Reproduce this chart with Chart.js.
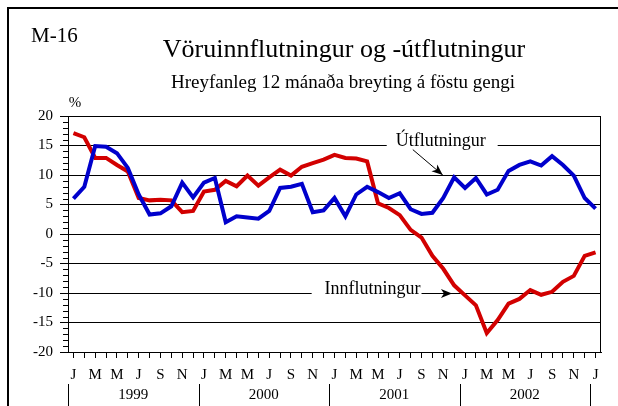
<!DOCTYPE html>
<html>
<head>
<meta charset="utf-8">
<script src="https://cdn.jsdelivr.net/npm/chart.js@4/dist/chart.umd.min.js"></script>
<style>
  body { margin: 0; background: #fff; }
</style>
</head>
<body>
<canvas id="chart" width="618" height="406"></canvas>
<script>
// Jan 1999 .. Jan 2003, one point per month
const months = ['J','F','M','A','M','J','J','A','S','O','N','D',
                'J','F','M','A','M','J','J','A','S','O','N','D',
                'J','F','M','A','M','J','J','A','S','O','N','D',
                'J','F','M','A','M','J','J','A','S','O','N','D',
                'J'];
const years = ['1999', '2000', '2001', '2002'];
const yTicks = [20, 15, 10, 5, 0, -5, -10, -15, -20];

// Útflutningur (blue)
const exportsData = [6.0, 8.0, 14.9, 14.8, 13.7, 11.2, 6.7, 3.3, 3.5, 4.7, 8.7, 6.2,
                     8.7, 9.5, 2.0, 3.0, 2.8, 2.6, 3.9, 7.8, 8.0, 8.5, 3.7, 4.0,
                     6.1, 3.0, 6.7, 8.0, 7.1, 6.1, 6.9, 4.2, 3.4, 3.6, 6.1, 9.6,
                     7.8, 9.5, 6.7, 7.5, 10.7, 11.7, 12.3, 11.6, 13.2, 11.7, 9.9, 6.1,
                     4.3];
// Innflutningur (red)
const importsData = [17.1, 16.4, 12.9, 12.9, 11.7, 10.6, 6.1, 5.7, 5.8, 5.7, 3.7, 3.9,
                     7.2, 7.5, 9.0, 8.1, 9.9, 8.2, 9.6, 10.9, 9.9, 11.4, 12.0, 12.6,
                     13.4, 12.9, 12.8, 12.3, 5.2, 4.4, 3.2, 0.7, -0.6, -3.7, -5.9, -8.7,
                     -10.4, -12.1, -16.8, -14.6, -11.8, -11.0, -9.5, -10.3, -9.8, -8.1, -7.1, -3.7,
                     -3.1];

const serif = '"Liberation Serif", "Times New Roman", serif';

function arrowHead(ctx, x1, y1, x2, y2) {
  const a = Math.atan2(y2 - y1, x2 - x1);
  const len = 11, w = 4.5;
  ctx.save();
  ctx.translate(x2, y2);
  ctx.rotate(a);
  ctx.beginPath();
  ctx.moveTo(0, 0);
  ctx.lineTo(-len, -w);
  ctx.lineTo(-len + 3, 0);
  ctx.lineTo(-len, w);
  ctx.closePath();
  ctx.fill();
  ctx.restore();
}

const decor = {
  id: 'decor',
  beforeDraw(chart) {
    const ctx = chart.ctx;
    ctx.save();
    ctx.fillStyle = '#fff';
    ctx.fillRect(0, 0, chart.width, chart.height);
    ctx.strokeStyle = '#000';
    ctx.lineWidth = 2;
    ctx.strokeRect(8, 8, 640, 440);
    ctx.fillStyle = '#000';
    ctx.textBaseline = 'alphabetic';
    ctx.font = '21px ' + serif;
    ctx.textAlign = 'left';
    ctx.fillText('M-16', 31, 42);
    ctx.textAlign = 'center';
    ctx.font = '26px ' + serif;
    ctx.fillText('Vöruinnflutningur og -útflutningur', 344, 57);
    ctx.font = '19px ' + serif;
    ctx.fillText('Hreyfanleg 12 mánaða breyting á föstu gengi', 343, 88);
    ctx.font = '15px ' + serif;
    ctx.fillText('%', 75, 107);
    ctx.restore();
  },
  beforeDatasetsDraw(chart) {
    const ctx = chart.ctx, x = chart.scales.x, y = chart.scales.y;
    const a = chart.chartArea;
    ctx.save();
    // minor ticks on the y axis
    ctx.strokeStyle = '#000';
    ctx.lineWidth = 1;
    for (let v = -20; v <= 20; v++) {
      if (v % 5 === 0) continue;
      const py = Math.round(y.getPixelForValue(v)) + 0.5;
      ctx.beginPath();
      ctx.moveTo(a.left - 5, py);
      ctx.lineTo(a.left, py);
      ctx.stroke();
    }
    // gaps in grid lines behind the labels
    ctx.fillStyle = '#fff';
    let y15 = y.getPixelForValue(15);
    ctx.fillRect(x.getPixelForValue(28.8), y15 - 3, x.getPixelForValue(39.0) - x.getPixelForValue(28.8), 6);
    let ym10 = y.getPixelForValue(-10);
    ctx.fillRect(x.getPixelForValue(21.9), ym10 - 3, x.getPixelForValue(32.0) - x.getPixelForValue(21.9), 6);
    // box
    ctx.strokeStyle = '#000';
    ctx.strokeRect(a.left + 0.5, a.top + 0.5, a.right - a.left - 1, a.bottom - a.top);
    ctx.restore();
  },
  afterDatasetsDraw(chart) {
    const ctx = chart.ctx, x = chart.scales.x, y = chart.scales.y;
    ctx.save();
    ctx.fillStyle = '#000';
    ctx.strokeStyle = '#000';
    ctx.lineWidth = 1;
    ctx.font = '18px ' + serif;
    ctx.textAlign = 'center';
    ctx.textBaseline = 'middle';
    ctx.fillText('Útflutningur', x.getPixelForValue(33.76), y.getPixelForValue(15.7));
    ctx.fillText('Innflutningur', x.getPixelForValue(27.5), y.getPixelForValue(-9.4));
    // arrows
    let x1 = x.getPixelForValue(31.2), y1 = y.getPixelForValue(14.3);
    let x2 = x.getPixelForValue(33.95), y2 = y.getPixelForValue(10.0);
    ctx.beginPath(); ctx.moveTo(x1, y1); ctx.lineTo(x2, y2); ctx.stroke();
    arrowHead(ctx, x1, y1, x2, y2);
    x1 = x.getPixelForValue(32.1); y1 = Math.round(y.getPixelForValue(-10)) + 0.5;
    x2 = x.getPixelForValue(34.8); y2 = y1;
    ctx.beginPath(); ctx.moveTo(x1, y1); ctx.lineTo(x2, y2); ctx.stroke();
    arrowHead(ctx, x1, y1, x2, y2);
    // years and separators
    ctx.font = '15px ' + serif;
    ctx.textBaseline = 'middle';
    for (let k = 0; k <= years.length; k++) {
      const px = Math.round(x.getPixelForValue(12 * k - 0.5)) + 0.5;
      ctx.beginPath();
      ctx.moveTo(px, 384);
      ctx.lineTo(px, 406);
      ctx.stroke();
      if (k < years.length) {
        ctx.fillText(years[k], x.getPixelForValue(12 * k + 5.5), 395);
      }
    }
    ctx.restore();
  }
};

new Chart(document.getElementById('chart'), {
  type: 'line',
  data: {
    datasets: [{
      label: 'Útflutningur',
      data: exportsData.map((v, i) => ({ x: i, y: v })),
      borderColor: 'rgb(0, 0, 204)',
      borderWidth: 4,
      pointRadius: 0,
      tension: 0
    }, {
      label: 'Innflutningur',
      data: importsData.map((v, i) => ({ x: i, y: v })),
      borderColor: 'rgb(210, 0, 0)',
      borderWidth: 4,
      pointRadius: 0,
      tension: 0
    }]
  },
  plugins: [decor],
  options: {
    responsive: false,
    animation: false,
    devicePixelRatio: 1,
    layout: { padding: { top: 116, right: 17, left: 0, bottom: 0 } },
    plugins: { legend: { display: false }, tooltip: { enabled: false } },
    scales: {
      x: {
        type: 'linear',
        min: -0.5,
        max: 48.5,
        afterBuildTicks: s => { s.ticks = months.map((m, i) => ({ value: i })); },
        afterFit: s => { s.height = 54; },
        grid: { drawOnChartArea: false, tickLength: 6, color: '#000' },
        border: { color: '#000' },
        ticks: {
          autoSkip: false, maxRotation: 0, minRotation: 0, padding: 8,
          color: '#000', font: { family: serif, size: 15 },
          callback: (v, i) => (i % 2 === 0 ? months[i] : '')
        }
      },
      y: {
        min: -20,
        max: 20,
        afterBuildTicks: s => { s.ticks = yTicks.map(v => ({ value: v })); },
        afterFit: s => { s.width = 68; },
        grid: { color: '#000', tickLength: 8 },
        border: { color: '#000' },
        ticks: { padding: 7, color: '#000', font: { family: serif, size: 15 } }
      }
    }
  }
});
</script>
</body>
</html>
